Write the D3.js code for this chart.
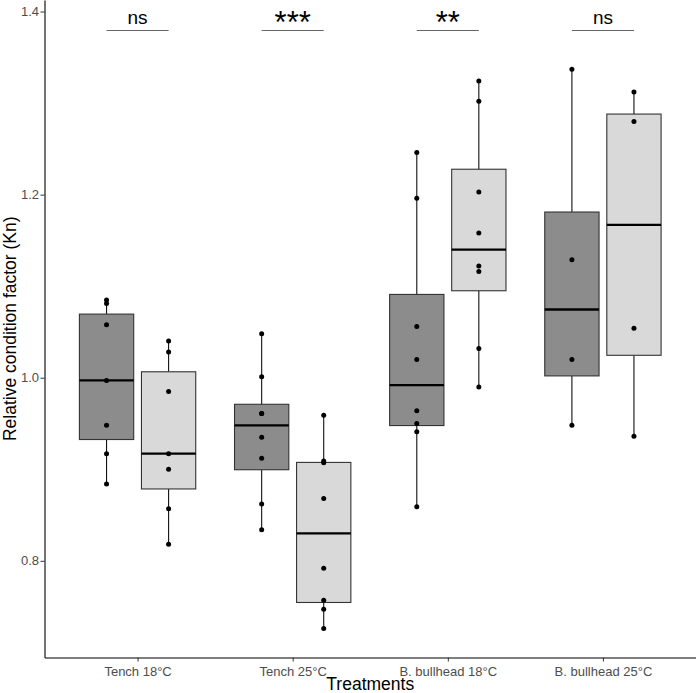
<!DOCTYPE html>
<html>
<head>
<meta charset="utf-8">
<script src="https://cdn.jsdelivr.net/npm/d3@7"></script>
<style>
	body { margin: 0; background: #fff; }
	text { font-family: "Liberation Sans", Arial, sans-serif; }
	.box { stroke: #333; stroke-width: 1.1; }
	.whisker { stroke: #111; stroke-width: 1.1; }
	.median { stroke: #000; stroke-width: 2.3; }
	.signif { stroke: #666; stroke-width: 1; }
</style>
</head>
<body>
<svg></svg>
<script>

var width = 696;
var height = 693;
var margins = { "left": 44.5, "right": 0, "top": 0, "bottom": 35.5 };

// categories and groups
var treatments = ["Tench 18°C", "Tench 25°C", "B. bullhead 18°C", "B. bullhead 25°C"];
var groups = ["dark", "light"];
var fills = ["#8c8c8c", "#d9d9d9"];

// individual Kn values
var tench18Dark = [1.085, 1.081, 1.058, 0.997, 0.948, 0.917, 0.884];
var tench18Light = [1.040, 1.028, 0.985, 0.917, 0.900, 0.857, 0.818];
var tench25Dark = [1.048, 1.001, 0.961, 0.961, 0.935, 0.912, 0.862, 0.834];
var tench25Light = [0.959, 0.909, 0.907, 0.868, 0.792, 0.757, 0.747, 0.726];
var bull18Dark = [1.246, 1.196, 1.056, 1.020, 0.964, 0.950, 0.941, 0.859];
var bull18Light = [1.324, 1.302, 1.203, 1.158, 1.122, 1.116, 1.032, 0.990];
var bull25Dark = [1.337, 1.129, 1.020, 0.948];
var bull25Light = [1.312, 1.280, 1.054, 0.936];

var series = [
	[tench18Dark, tench18Light],
	[tench25Dark, tench25Light],
	[bull18Dark, bull18Light],
	[bull25Dark, bull25Light]
];

var signif = ["ns", "***", "**", "ns"];
var yTicks = [0.8, 1.0, 1.2, 1.4];

var svg = d3.select("svg")
	.attr("width", width)
	.attr("height", height);

var x = d3.scalePoint()
	.domain(treatments)
	.range([margins.left, width - margins.right])
	.padding(0.6);
var step = x.step();

var y = d3.scaleLinear()
	.domain([0.6944, 1.4126])
	.range([height - margins.bottom, margins.top]);

// box stats like R's boxplot (type 7 quantiles, 1.5 IQR whiskers)
function stats(vals) {
	var s = vals.slice().sort(d3.ascending);
	var q1 = d3.quantile(s, 0.25), med = d3.quantile(s, 0.5), q3 = d3.quantile(s, 0.75);
	var iqr = q3 - q1;
	var lo = d3.min(s.filter(v => v >= q1 - 1.5 * iqr));
	var hi = d3.max(s.filter(v => v <= q3 + 1.5 * iqr));
	return { q1: q1, med: med, q3: q3, lo: lo, hi: hi };
}

var boxData = [];
series.forEach((pair, i) => {
	pair.forEach((vals, j) => {
		boxData.push({ cat: treatments[i], group: j, vals: vals, st: stats(vals) });
	});
});

var boxW = step * 0.35;
var cx = d => x(d.cat) + (d.group === 0 ? -0.2 : 0.2) * step;

var boxes = svg.selectAll("g.boxg")
	.data(boxData)
	.enter()
	.append("g")
	.attr("class", "boxg");

boxes.append("line")
	.attr("class", "whisker")
	.attr("x1", cx).attr("x2", cx)
	.attr("y1", d => y(d.st.hi)).attr("y2", d => y(d.st.q3));
boxes.append("line")
	.attr("class", "whisker")
	.attr("x1", cx).attr("x2", cx)
	.attr("y1", d => y(d.st.q1)).attr("y2", d => y(d.st.lo));
boxes.append("rect")
	.attr("class", "box")
	.attr("x", d => cx(d) - boxW / 2)
	.attr("width", boxW)
	.attr("y", d => y(d.st.q3))
	.attr("height", d => y(d.st.q1) - y(d.st.q3))
	.attr("fill", d => fills[d.group]);
boxes.append("line")
	.attr("class", "median")
	.attr("x1", d => cx(d) - boxW / 2)
	.attr("x2", d => cx(d) + boxW / 2)
	.attr("y1", d => y(d.st.med)).attr("y2", d => y(d.st.med));

boxes.each(function (d) {
	d3.select(this).selectAll("circle")
		.data(d.vals)
		.enter()
		.append("circle")
		.attr("cx", cx(d))
		.attr("cy", v => y(v))
		.attr("r", 2.5)
		.attr("fill", "#000");
});

// significance brackets
var sig = svg.selectAll("g.sig")
	.data(treatments)
	.enter()
	.append("g")
	.attr("class", "sig");
sig.append("line")
	.attr("class", "signif")
	.attr("x1", d => x(d) - 0.2 * step)
	.attr("x2", d => x(d) + 0.2 * step)
	.attr("y1", 30.5).attr("y2", 30.5);
sig.append("text")
	.attr("x", d => x(d))
	.attr("y", (d, i) => signif[i] === "ns" ? 23.5 : 33)
	.attr("text-anchor", "middle")
	.attr("font-size", (d, i) => signif[i] === "ns" ? "19px" : "31px")
	.attr("fill", "#000")
	.text((d, i) => signif[i]);

// axes
var xAxis = svg.append("g")
	.attr("transform", "translate(0," + (height - margins.bottom) + ")")
	.call(d3.axisBottom(x).tickSize(4).tickSizeOuter(0));
var yAxis = svg.append("g")
	.attr("transform", "translate(" + margins.left + ",0)")
	.call(d3.axisLeft(y).tickValues(yTicks).tickFormat(d3.format(".1f")).tickSize(4).tickSizeOuter(0));

[xAxis, yAxis].forEach(a => {
	a.select(".domain").attr("stroke", "#000").attr("stroke-width", 1.1);
	a.selectAll(".tick line").attr("stroke", "#333");
	a.selectAll(".tick text")
		.attr("fill", "#4d4d4d")
		.style("font-size", "13px")
		.style("font-family", "Liberation Sans, Arial, sans-serif");
});
xAxis.selectAll(".tick text").attr("dy", "0.9em");
yAxis.selectAll(".tick text").attr("x", -5.5);

svg.append("text")
	.attr("x", (margins.left + width) / 2)
	.attr("y", 690)
	.attr("text-anchor", "middle")
	.attr("font-size", "17.5px")
	.attr("fill", "#000")
	.text("Treatments");

svg.append("text")
	.attr("transform", "translate(15.5," + ((height - margins.bottom) / 2) + ") rotate(-90)")
	.attr("text-anchor", "middle")
	.attr("font-size", "17.5px")
	.attr("fill", "#000")
	.text("Relative condition factor (Kn)");

</script>
</body>
</html>
